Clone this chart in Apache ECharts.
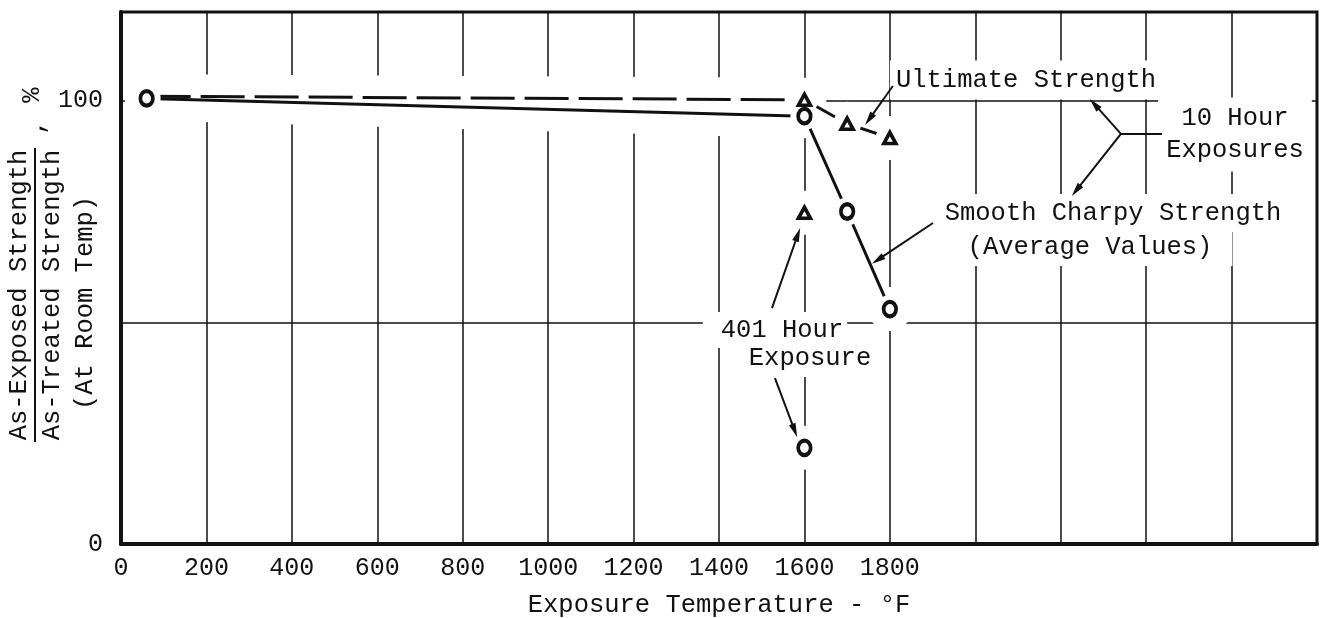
<!DOCTYPE html>
<html>
<head>
<meta charset="utf-8">
<script src="https://cdn.jsdelivr.net/npm/echarts@6/dist/echarts.min.js"></script>
<style>
  html, body { margin: 0; padding: 0; background: #fff; }
  #chart { width: 1320px; height: 618px; }
</style>
</head>
<body>
<div id="chart"></div>
<script>
// Smooth Charpy strength, 10 hour exposures (°F, % of as-treated)
const charpyTempF = [60, 1600, 1700, 1800];
const charpyPct = [100.5, 96.5, 75, 53];

// Ultimate strength, 10 hour exposures
const ultimateTempF = [60, 1600, 1700, 1800];
const ultimatePct = [101, 100.2, 94.8, 91.6];

// 401 hour exposure at 1600 °F
const longTempF = [1600];
const longUltimatePct = [74.7];
const longCharpyPct = [21.7];

// Axis tick labels that are printed
const xTickLabels = ['0', '200', '400', '600', '800', '1000', '1200', '1400', '1600', '1800'];
const yTickLabels = ['0', '100'];

const INK = '#111';
const FONT = '"Liberation Mono", monospace';
const FS = 25.5;
const TOP = 1; // drawing layer above the grid

const pts = (xs, ys) => xs.map((x, i) => [x, ys[i]]);
const charpyPts = pts(charpyTempF, charpyPct);
const ultimatePts = pts(ultimateTempF, ultimatePct);
const longUltimatePts = pts(longTempF, longUltimatePct);
const longCharpyPts = pts(longTempF, longCharpyPct);

const circlePts = charpyPts.concat(longCharpyPts);
const trianglePts = ultimatePts.slice(1).concat(longUltimatePts);
const allMarkerPts = circlePts.concat(trianglePts);

const chart = echarts.init(document.getElementById('chart'), null, { renderer: 'canvas' });

const halo = (data, size, z) => ({
  type: 'scatter', data: data, symbol: 'circle', symbolSize: size, silent: true,
  zlevel: TOP, z: z, itemStyle: { color: '#fff', opacity: 1 }
});

const option = {
  animation: false,
  backgroundColor: '#fff',
  grid: {
    left: 121, right: 3, top: 12, bottom: 74,
    containLabel: false, outerBoundsMode: 'none',
    show: true, borderColor: INK, borderWidth: 3, backgroundColor: 'transparent'
  },
  xAxis: {
    type: 'value', min: 0, max: 2800, interval: 200,
    name: 'Exposure Temperature - °F',
    nameLocation: 'middle', nameGap: 48,
    nameTextStyle: { fontFamily: FONT, fontSize: FS, color: INK },
    axisLine: { show: true, lineStyle: { color: INK, width: 4 } },
    axisTick: { show: false },
    axisLabel: {
      margin: 12, fontFamily: FONT, fontSize: 25, color: INK,
      formatter: v => (xTickLabels.includes(String(v)) ? String(v) : '')
    },
    splitLine: { show: true, lineStyle: { color: INK, width: 1.5 } }
  },
  yAxis: {
    type: 'value', min: 0, max: 120, interval: 50,
    axisLine: { show: true, lineStyle: { color: INK, width: 4 } },
    axisTick: { show: false },
    axisLabel: {
      margin: 18, fontFamily: FONT, fontSize: 25, color: INK,
      formatter: v => (yTickLabels.includes(String(v)) ? String(v) : '')
    },
    splitLine: { show: true, lineStyle: { color: INK, width: 1.5 } }
  },
  series: [
    // white band that breaks the grid around the low-temperature lines
    { type: 'line', data: charpyPts.slice(0, 2), symbol: 'none', silent: true, zlevel: TOP, z: 1,
      lineStyle: { color: '#fff', width: 44, opacity: 1 } },
    { type: 'line', data: ultimatePts.slice(0, 2), symbol: 'none', silent: true, zlevel: TOP, z: 1,
      lineStyle: { color: '#fff', width: 44, opacity: 1 } },
    // wide clearing round every plotted point
    halo(allMarkerPts, 44, 1),
    // Smooth Charpy strength
    { name: 'Smooth Charpy Strength', type: 'line', data: charpyPts, symbol: 'none', zlevel: TOP, z: 2,
      lineStyle: { color: INK, width: 3 } },
    // Ultimate strength: dashed to 1600 °F, then short solid strokes
    { name: 'Ultimate Strength', type: 'line', data: ultimatePts.slice(0, 2), symbol: 'none', zlevel: TOP, z: 2,
      lineStyle: { color: INK, width: 3, type: [44, 10] } },
    { name: 'Ultimate Strength', type: 'line', data: ultimatePts.slice(1), symbol: 'none', zlevel: TOP, z: 2,
      lineStyle: { color: INK, width: 3 } },
    // small clearing so lines stop short of the symbols
    halo(allMarkerPts, 28, 3),
    // open circles and triangles
    { type: 'scatter', data: circlePts, symbol: 'circle', symbolSize: [12.5, 14.5], zlevel: TOP, z: 4,
      itemStyle: { color: '#fff', borderColor: INK, borderWidth: 4, opacity: 1 } },
    { type: 'scatter', data: trianglePts, symbol: 'triangle', symbolSize: [12, 11], zlevel: TOP, z: 4,
      itemStyle: { color: '#fff', borderColor: INK, borderWidth: 3.6, opacity: 1 } }
  ]
};

chart.setOption(option);

// ---- annotations ----
const px = p => chart.convertToPixel({ gridIndex: 0 }, p);

function arrow(from, to, withHead) {
  const a = px(from), b = px(to);
  const dx = b[0] - a[0], dy = b[1] - a[1];
  const L = Math.hypot(dx, dy), ux = dx / L, uy = dy / L;
  const hl = 14, hw = 3.5;
  const base = [b[0] - ux * hl, b[1] - uy * hl];
  const els = [{
    type: 'line', zlevel: TOP, z: 101, silent: true,
    shape: { x1: a[0], y1: a[1], x2: withHead ? base[0] + ux * 3 : b[0], y2: withHead ? base[1] + uy * 3 : b[1] },
    style: { stroke: INK, lineWidth: 2 }
  }];
  if (withHead) {
    els.push({
      type: 'polygon', zlevel: TOP, z: 101, silent: true,
      shape: { points: [b, [base[0] - uy * hw, base[1] + ux * hw], [base[0] + uy * hw, base[1] - ux * hw]] },
      style: { fill: INK }
    });
  }
  return els;
}

function label(text, x, y, padding, extra) {
  return {
    type: 'text', x: x, y: y, zlevel: TOP, z: 100, silent: true,
    style: Object.assign({
      text: text, font: FS + 'px ' + FONT, fill: INK,
      align: 'center', verticalAlign: 'middle', lineHeight: 30,
      backgroundColor: '#fff', padding: padding
    }, extra || {})
  };
}

function vtext(text, x, y) {
  return {
    type: 'text', x: x, y: y, rotation: Math.PI / 2, zlevel: TOP, z: 100, silent: true,
    style: { text: text, font: FS + 'px ' + FONT, fill: INK, align: 'center', verticalAlign: 'middle' }
  };
}

const apex = [2341, 92.5];
const graphics = [
  // y-axis title
  vtext('As-Exposed Strength', 19, 295),
  { type: 'line', zlevel: TOP, z: 100, silent: true, shape: { x1: 35, y1: 148, x2: 35, y2: 442 }, style: { stroke: INK, lineWidth: 2 } },
  vtext('As-Treated Strength', 52, 295),
  vtext('(At Room Temp)', 85, 303),
  vtext(',', 36, 127),
  vtext('%', 32, 95),

  // annotation texts
  label('Ultimate Strength', 1026, 80, [5, 6, 4, 6]),
  label('10 Hour\nExposures', 1235, 134.5, [0, 8, 10, 8], { lineHeight: 32 }),
  label('Smooth Charpy Strength', 1113, 213, [8, 4, 0, 4]),
  label('(Average Values)', 1098, 247, [0, 20, 8, 4]),
  label('401 Hour', 775, 330, [6, 4, 0, 18]),
  label('Exposure', 810, 358, [0, 6, 8, 6])
]
  .concat(arrow([1807, 103.3], [1742, 94.5], true))
  .concat(arrow(apex, [2268, 100.4], true))
  .concat(arrow(apex, [2226, 78.5], true))
  .concat(arrow(apex, [2437, 92.5], false))
  .concat(arrow([1901, 72.4], [1758, 63.2], true))
  .concat(arrow([1524, 53.2], [1590, 71.3], true))
  .concat(arrow([1531, 37.4], [1583, 24.1], true));

chart.setOption({ graphic: graphics });
</script>
</body>
</html>
